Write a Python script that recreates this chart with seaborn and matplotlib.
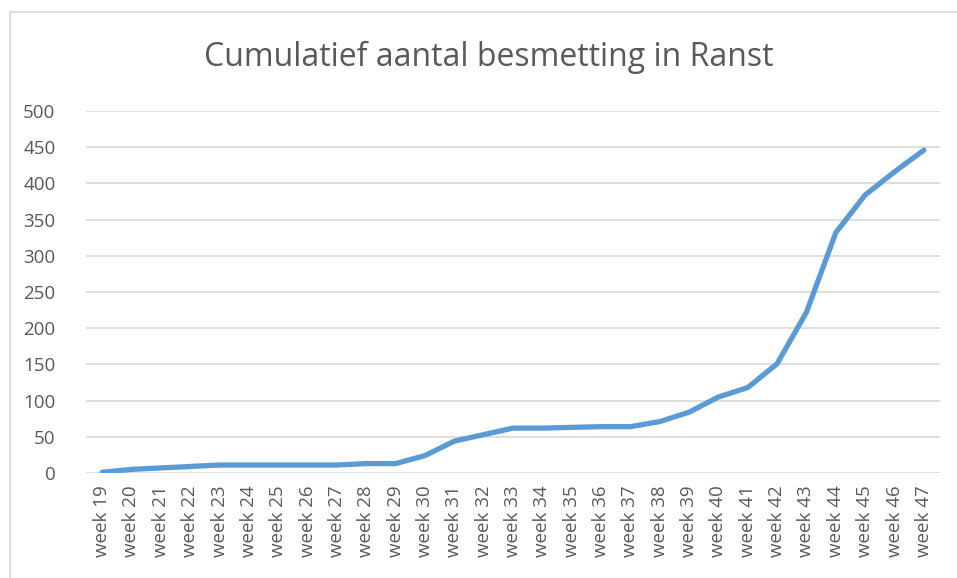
import matplotlib
matplotlib.use("Agg")
import matplotlib.pyplot as plt
import matplotlib.patches as patches
import pandas as pd
import seaborn as sns

weeks = [f"week {w}" for w in range(19, 48)]
cases = [1, 5, 7, 9, 11, 11, 11, 11, 11, 13, 13, 24, 44, 53, 62, 62, 63, 64,
         64, 71, 84, 105, 118, 151, 222, 332, 384, 416, 446]
yticks = [0, 50, 100, 150, 200, 250, 300, 350, 400, 450, 500]

df = pd.DataFrame({"week": weeks, "cases": cases})

sns.set_style("white")
plt.rcParams["font.family"] = ["Open Sans", "DejaVu Sans"]

fig = plt.figure(figsize=(9.57, 5.78), dpi=100)
ax = fig.add_axes([86 / 957, 1 - 473 / 578, (940 - 86) / 957, (473 - 111) / 578])

# chart border
fig.patches.append(patches.Rectangle((10 / 957, -0.05), 1.0, 1 - 12 / 578 + 0.05,
                                     transform=fig.transFigure, fill=False,
                                     edgecolor="#d9d9d9", linewidth=1.2))

sns.lineplot(data=df, x="week", y="cases", ax=ax, color="#5b9bd5",
             linewidth=3.8, sort=False)

ax.set_xlim(-0.55, len(weeks) - 0.45)
ax.set_ylim(0, 500)
ax.set_yticks(yticks)
ax.yaxis.grid(True, color="#d9d9d9", linewidth=1.2)
ax.set_axisbelow(True)
for s in ax.spines.values():
    s.set_visible(False)
ax.tick_params(axis="both", length=0, labelsize=13.5, labelcolor="#595959")
ax.tick_params(axis="y", pad=22)
ax.tick_params(axis="x", pad=9)
plt.setp(ax.get_xticklabels(), rotation=90)
ax.set_xlabel("")
ax.set_ylabel("")

fig.text(489 / 957, 1 - 57 / 578, "Cumulatief aantal besmetting in Ranst",
         ha="center", va="center", fontsize=23, color="#595959")

fig.savefig("out.png", dpi=100)
